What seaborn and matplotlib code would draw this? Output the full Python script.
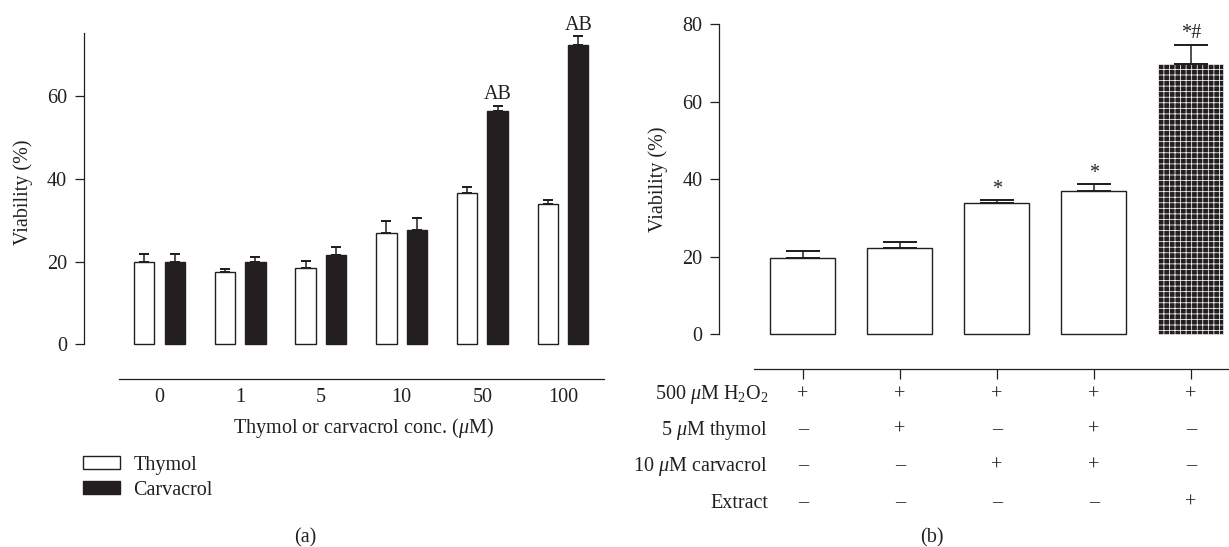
"""Thymol / carvacrol viability bars (panel a) and combination treatments (panel b)."""

from __future__ import annotations

import matplotlib

matplotlib.use("Agg")

import matplotlib.pyplot as plt
import matplotlib.transforms as mtransforms
import numpy as np
import pandas as pd
import seaborn as sns


# panel (a): viability vs concentration
CONCENTRATIONS = ["0", "1", "5", "10", "50", "100"]
COMPOUNDS = ["Thymol", "Carvacrol"]
THYMOL_MEAN = [19.8, 17.5, 18.5, 26.9, 36.6, 33.9]
THYMOL_ERR = [2.0, 0.6, 1.7, 2.8, 1.4, 1.0]
CARVACROL_MEAN = [19.8, 19.9, 21.5, 27.7, 56.3, 72.4]
CARVACROL_ERR = [2.0, 1.1, 2.1, 2.9, 1.4, 2.0]
CARVACROL_MARKS = ["", "", "", "", "AB", "AB"]

# panel (b): combination treatments
TREATMENTS = ["H2O2", "H2O2+thymol", "H2O2+carvacrol", "H2O2+thymol+carvacrol", "H2O2+extract"]
TREATMENT_MEAN = [19.6, 22.2, 33.8, 37.0, 69.6]
TREATMENT_ERR = [1.8, 1.7, 0.8, 1.7, 5.1]
TREATMENT_MARKS = ["", "", "*", "*", "*#"]
ROW_LABELS = [
    r"500 $\mu$M H$_2$O$_2$",
    r"5 $\mu$M thymol",
    r"10 $\mu$M carvacrol",
    "Extract",
]
ROW_H2O2 = ["+", "+", "+", "+", "+"]
ROW_THYMOL = ["–", "+", "–", "+", "–"]
ROW_CARVACROL = ["–", "–", "+", "+", "–"]
ROW_EXTRACT = ["–", "–", "–", "–", "+"]

INK = "#231f20"
FS = 14.5
W, H = 1229, 547


def fx(px: float) -> float:
    return px / W


def fy(py: float) -> float:
    return 1 - py / H


def add_errors(ax, xs, heights, errs, capsize, lw) -> None:
    """Upper-only error bars on top of the bars."""
    ax.errorbar(
        xs,
        heights,
        yerr=[np.zeros(len(errs)), errs],
        fmt="none",
        ecolor=INK,
        elinewidth=lw,
        capsize=capsize,
        capthick=lw * 1.3,
        zorder=3,
        clip_on=False,
    )


def bar_centers(container):
    return [p.get_x() + p.get_width() / 2 for p in container.patches]


def panel_a(fig) -> None:
    ax = fig.add_axes([fx(84.3), fy(344.3), fx(519.7), 334.3 / H])
    df = pd.DataFrame(
        {
            "conc": CONCENTRATIONS * 2,
            "compound": ["Thymol"] * len(CONCENTRATIONS) + ["Carvacrol"] * len(CONCENTRATIONS),
            "viability": THYMOL_MEAN + CARVACROL_MEAN,
        }
    )
    sns.barplot(
        data=df,
        x="conc",
        y="viability",
        hue="compound",
        order=CONCENTRATIONS,
        hue_order=COMPOUNDS,
        palette={"Thymol": "white", "Carvacrol": INK},
        saturation=1,
        edgecolor=INK,
        linewidth=1.0,
        width=0.756,
        gap=0.33,
        errorbar=None,
        ax=ax,
    )
    for patch in ax.patches:
        patch.set_clip_on(False)

    errs = [THYMOL_ERR, CARVACROL_ERR]
    means = [THYMOL_MEAN, CARVACROL_MEAN]
    for container, mean, err in zip(ax.containers, means, errs):
        add_errors(ax, bar_centers(container), mean, err, capsize=3.6, lw=1.1)

    carv_x = bar_centers(ax.containers[1])
    for x, m, e, mark in zip(carv_x, CARVACROL_MEAN, CARVACROL_ERR, CARVACROL_MARKS):
        if mark:
            ax.annotate(mark, (x, m + e), xytext=(0, 5), textcoords="offset points",
                        ha="center", va="baseline", fontsize=FS, color=INK, annotation_clip=False)

    xmin = -0.932
    ax.set_xlim(xmin, xmin + 519.7 / 80.7)
    ax.set_ylim(0, 80.8)
    ax.set_yticks([0, 20, 40, 60])
    ax.spines[["top", "right"]].set_visible(False)
    ax.spines["left"].set_bounds(0, 75.2)
    ax.spines["bottom"].set_position(("outward", 25))
    ax.spines["bottom"].set_bounds(-0.5, ax.get_xlim()[1])
    for side in ("left", "bottom"):
        ax.spines[side].set_color(INK)
        ax.spines[side].set_linewidth(0.9)
    ax.tick_params(axis="y", direction="out", length=6.5, width=0.9, pad=6, colors=INK, labelsize=FS)
    ax.tick_params(axis="x", length=0, pad=6.5, colors=INK, labelsize=FS)

    ax.set_ylabel("Viability (%)", fontsize=FS, color=INK, va="center")
    ax.yaxis.set_label_coords((23 - 84.3) / 519.7, 0.456)
    ax.set_xlabel(r"Thymol or carvacrol conc. ($\mu$M)", fontsize=FS, color=INK)
    ax.xaxis.set_label_coords((363 - 84.3) / 519.7, (344.3 - 428) / 334.3)
    ax.xaxis.label.set_va("center")

    handles, labels = ax.get_legend_handles_labels()
    ax.get_legend().remove()
    leg = ax.legend(
        handles,
        labels,
        loc="upper left",
        bbox_to_anchor=(fx(83), fy(456)),
        bbox_transform=fig.transFigure,
        frameon=False,
        borderpad=0,
        borderaxespad=0,
        handlelength=1.85,
        handleheight=0.62,
        handletextpad=0.65,
        labelspacing=0.3,
        fontsize=FS,
    )
    for patch in leg.get_patches():
        patch.set_edgecolor(INK)
        patch.set_linewidth(1.0)
    for text in leg.get_texts():
        text.set_color(INK)


def panel_b(fig) -> None:
    ax = fig.add_axes([fx(719.3), fy(334.3), fx(509.7), 310.3 / H])
    df = pd.DataFrame({"treatment": TREATMENTS, "viability": TREATMENT_MEAN})
    sns.barplot(
        data=df,
        x="treatment",
        y="viability",
        order=TREATMENTS,
        color="white",
        saturation=1,
        edgecolor=INK,
        linewidth=1.0,
        width=0.665,
        errorbar=None,
        ax=ax,
    )
    for patch in ax.patches:
        patch.set_clip_on(False)
    extract_bar = ax.patches[-1]
    extract_bar.set_facecolor(INK)
    extract_bar.set_edgecolor("white")
    extract_bar.set_linewidth(0.4)
    extract_bar.set_hatch("+++")

    xs = bar_centers(ax.containers[0])
    add_errors(ax, xs, TREATMENT_MEAN, TREATMENT_ERR, capsize=11.9, lw=1.1)
    for x, m, e, mark in zip(xs, TREATMENT_MEAN, TREATMENT_ERR, TREATMENT_MARKS):
        if mark:
            ax.annotate(mark, (x, m + e), xytext=(0, 1), textcoords="offset points",
                        ha="center", va="bottom", fontsize=FS, color=INK, annotation_clip=False)

    xmin = -0.86
    ax.set_xlim(xmin, xmin + 509.7 / 97)
    ax.set_ylim(0, 80)
    ax.set_yticks([0, 20, 40, 60, 80])
    ax.spines[["top", "right"]].set_visible(False)
    ax.spines["bottom"].set_position(("outward", 25.2))
    ax.spines["bottom"].set_bounds(-0.5, ax.get_xlim()[1])
    for side in ("left", "bottom"):
        ax.spines[side].set_color(INK)
        ax.spines[side].set_linewidth(0.9)
    ax.tick_params(axis="y", direction="out", length=6.5, width=0.9, pad=5.5, colors=INK, labelsize=FS)
    ax.tick_params(axis="x", direction="out", length=7.2, width=0.9, colors=INK, labelbottom=False)
    ax.set_xlabel("")
    ax.set_ylabel("Viability (%)", fontsize=FS, color=INK, va="center")
    ax.yaxis.set_label_coords((658 - 719.3) / 509.7, 0.5)

    # treatment table under the bars
    trans = mtransforms.blended_transform_factory(ax.transData, fig.transFigure)
    rows = [ROW_H2O2, ROW_THYMOL, ROW_CARVACROL, ROW_EXTRACT]
    row_y = [395, 430, 466, 503]
    for label, signs, py in zip(ROW_LABELS, rows, row_y):
        fig.text(fx(768), fy(py), label, ha="right", va="center", fontsize=FS, color=INK)
        for x, sign in zip(xs, signs):
            ax.text(x, fy(py), sign, transform=trans, ha="center", va="center",
                    fontsize=FS, color=INK, clip_on=False)


def main() -> None:
    sns.set_style("ticks")
    plt.rcParams["font.family"] = ["Liberation Serif", "DejaVu Serif"]
    plt.rcParams["mathtext.fontset"] = "custom"
    plt.rcParams["mathtext.rm"] = "Liberation Serif"
    plt.rcParams["mathtext.it"] = "Liberation Serif:italic"
    plt.rcParams["hatch.linewidth"] = 0.55

    fig = plt.figure(figsize=(W / 100, H / 100), dpi=100)
    panel_a(fig)
    panel_b(fig)
    fig.text(fx(305), fy(538), "(a)", ha="center", va="center", fontsize=FS, color=INK)
    fig.text(fx(932), fy(538), "(b)", ha="center", va="center", fontsize=FS, color=INK)
    fig.savefig("out.png", dpi=100, facecolor="white")
    plt.close(fig)


if __name__ == "__main__":
    main()
